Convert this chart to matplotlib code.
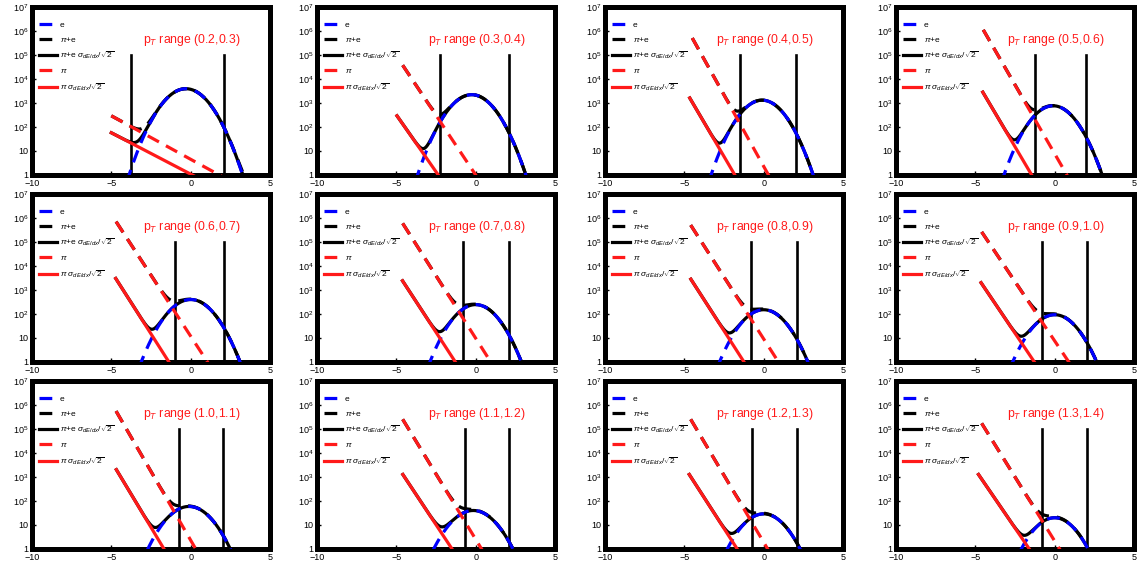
"""dE/dx n-sigma distributions for electrons and pions, per pT bin"""
import numpy as np
import matplotlib
matplotlib.use('Agg')
from matplotlib import pyplot as plt

plt.rcParams['font.family'] = ['Liberation Sans', 'DejaVu Sans']
plt.rcParams['mathtext.fontset'] = 'custom'
plt.rcParams['mathtext.rm'] = 'Liberation Sans'
plt.rcParams['mathtext.it'] = 'Liberation Sans:italic'
plt.rcParams['mathtext.sf'] = 'Liberation Sans'

pt_ranges = ['(0.2,0.3)', '(0.3,0.4)', '(0.4,0.5)', '(0.5,0.6)',
             '(0.6,0.7)', '(0.7,0.8)', '(0.8,0.9)', '(0.9,1.0)',
             '(1.0,1.1)', '(1.1,1.2)', '(1.2,1.3)', '(1.3,1.4)']

# electron gaussian
e_peak = [3900, 2200, 1300, 760, 400, 245, 150, 93, 59, 40, 29, 20]
e_mean = [-0.3, -0.25, -0.1, -0.1, 0.0, 0.0, 0.0, 0.0, -0.1, -0.15, 0.0, 0.0]
e_sigma = [0.88, 0.87, 0.85, 0.85, 0.90, 0.87, 0.88, 0.88, 0.91, 0.92, 0.885, 0.86]

# pion tail (full sigma): first x, value there, x where it drops to 1
pi_x0 = [-5.0, -4.6, -4.5, -4.5, -4.7, -4.6, -4.6, -4.6, -4.7, -4.6, -4.6, -4.6]
pi_y0 = [290, 3.7e4, 5e5, 1.1e6, 7e5, 5.9e5, 5e5, 2.6e5, 5.5e5, 2.5e5, 2.5e5, 1.7e5]
pi_x1 = [1.8, 0.0, 0.3, 0.77, 1.06, 0.95, 0.93, 0.89, 0.32, 0.37, 0.25, 0.31]

# pion tail with sigma_dE/dx / sqrt(2)
pis_x0 = [-5.0, -4.96, -4.66, -4.53, -4.72, -4.61, -4.59, -4.64, -4.68, -4.59, -4.69, -4.8]
pis_y0 = [57, 290, 1600, 2800, 3000, 2400, 2800, 2000, 2000, 1260, 1260, 1260]
pis_x1 = [0.1, -2.36, -1.82, -1.45, -1.37, -1.28, -1.24, -1.28, -1.68, -1.49, -1.67, -1.6]

# nsigma cuts
cut_low = [-3.79, -2.27, -1.52, -1.21, -1.0, -0.83, -0.79, -0.81, -0.74, -0.7, -0.73, -0.77]
cut_high = [2.13, 2.13, 2.02, 1.98, 2.08, 2.1, 2.07, 2.03, 2.06, 2.1, 2.08, 2.03]
cut_top = 1e5

x_ticks = [-10, -5, 0, 5]
y_ticks = [1, 10, 1e2, 1e3, 1e4, 1e5, 1e6, 1e7]
y_tick_labels = ['1', '10', r'$10^2$', r'$10^3$', r'$10^4$', r'$10^5$', r'$10^6$', r'$10^7$']

BLUE = '#0000ff'
RED = '#ff1a1a'


def pion_tail(x, x0, y0, x1):
    """straight line in log scale from (x0, y0) down to (x1, 1), nan before x0"""
    logy = np.log10(y0) * (x1 - x) / (x1 - x0)
    y = 10 ** logy
    y[x < x0] = np.nan
    return y


def draw_panel(ax, i):
    x = np.linspace(-10, 5, 1501)
    e = e_peak[i] * np.exp(-(x - e_mean[i]) ** 2 / (2 * e_sigma[i] ** 2))
    pi = pion_tail(x, pi_x0[i], pi_y0[i], pi_x1[i])
    pis = pion_tail(x, pis_x0[i], pis_y0[i], pis_x1[i])

    lw = 2.3
    dash = (4, 2.5)
    ax.plot(x, e + pis, color='black', lw=lw, zorder=2,
            label=r'$\pi$+e $\sigma_{dE/dx}/\sqrt{2}$')
    ax.plot(x, e + pi, color='black', lw=lw, dashes=dash, zorder=3, label=r'$\pi$+e')
    ax.plot(x, e, color=BLUE, lw=lw, dashes=dash, zorder=4, label='e')
    ax.plot(x, pi, color=RED, lw=lw, dashes=dash, zorder=5, label=r'$\pi$')
    ax.plot(x, pis, color=RED, lw=lw, zorder=6, label=r'$\pi$ $\sigma_{dE/dx}/\sqrt{2}$')

    for c in (cut_low[i], cut_high[i]):
        ax.plot([c, c], [1, cut_top], color='black', lw=1.9, zorder=3)

    ax.set_yscale('log')
    ax.set_xlim(-10, 5)
    ax.set_ylim(1, 1e7)
    ax.set_xticks(x_ticks)
    ax.set_yticks(y_ticks, y_tick_labels)
    ax.minorticks_off()
    ax.tick_params(labelsize=6.5, direction='in', length=3, width=1)
    ax.tick_params(axis='x', pad=3)
    ax.tick_params(axis='y', pad=2.5)
    for s in ax.spines.values():
        s.set_linewidth(3.6)

    ax.text(0.465, 0.80, r'p$_T$ range ' + pt_ranges[i], color=RED, fontsize=8.8,
            transform=ax.transAxes, va='center', ha='left')

    h, l = ax.get_legend_handles_labels()
    order = [2, 1, 0, 3, 4]
    ax.legend([h[k] for k in order], [l[k] for k in order], loc='upper left',
              bbox_to_anchor=(0.03, 0.915), frameon=False, fontsize=6,
              handlelength=2.1, handletextpad=0.35, labelspacing=0.7,
              borderaxespad=0.0, borderpad=0.0)


fig = plt.figure(figsize=(11.42, 5.68), dpi=100)
lefts = [0.028, 0.2776, 0.5298, 0.7846]
bottoms = [0.692, 0.3627, 0.0335]
w, h = 0.2084, 0.296
for i in range(len(pt_ranges)):
    ax = fig.add_axes([lefts[i % 4], bottoms[i // 4], w, h])
    draw_panel(ax, i)

fig.savefig('out.png', dpi=100)
